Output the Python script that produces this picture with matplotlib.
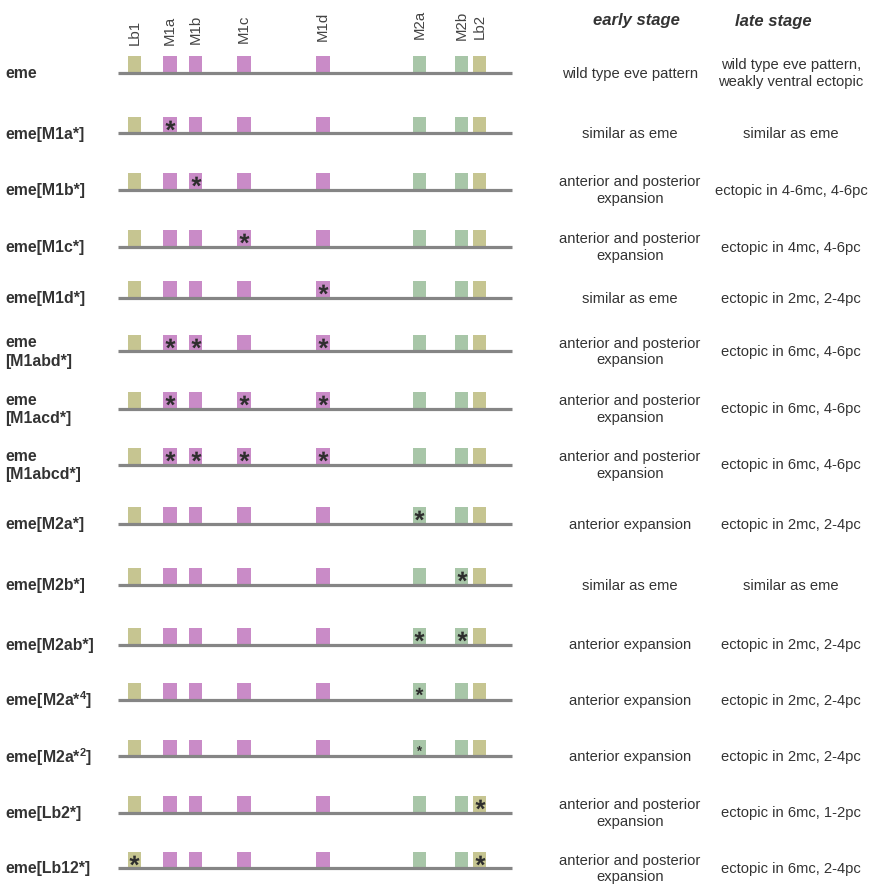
import matplotlib
matplotlib.use('Agg')
import matplotlib.pyplot as plt
from matplotlib.patches import Rectangle
from matplotlib.textpath import TextPath
from matplotlib.font_manager import FontProperties
from matplotlib.path import Path

plt.rcParams['font.family'] = ['Liberation Sans', 'DejaVu Sans']
plt.rcParams['mathtext.fontset'] = 'custom'
plt.rcParams['mathtext.rm'] = 'Liberation Sans'
plt.rcParams['mathtext.bf'] = 'Liberation Sans:bold'

# ---------------- data ----------------
sites = ['Lb1', 'M1a', 'M1b', 'M1c', 'M1d', 'M2a', 'M2b', 'Lb2']
site_positions = [134.3, 170.0, 195.7, 244.0, 323.0, 419.3, 461.7, 479.7]
site_class = ['Lb', 'M1', 'M1', 'M1', 'M1', 'M2', 'M2', 'Lb']

constructs = [
    'eme', 'eme[M1a*]', 'eme[M1b*]', 'eme[M1c*]', 'eme[M1d*]',
    'eme\n[M1abd*]', 'eme\n[M1acd*]', 'eme\n[M1abcd*]',
    'eme[M2a*]', 'eme[M2b*]', 'eme[M2ab*]',
    r'eme[M2a*$^{\mathbf{4}}$]', r'eme[M2a*$^{\mathbf{2}}$]',
    'eme[Lb2*]', 'eme[Lb12*]',
]
mutated_sites = [
    [], ['M1a'], ['M1b'], ['M1c'], ['M1d'],
    ['M1a', 'M1b', 'M1d'], ['M1a', 'M1c', 'M1d'], ['M1a', 'M1b', 'M1c', 'M1d'],
    ['M2a'], ['M2b'], ['M2a', 'M2b'],
    ['M2a'], ['M2a'],
    ['Lb2'], ['Lb1', 'Lb2'],
]
mutation_strength = ['full'] * 11 + ['4x', '2x'] + ['full'] * 2

AP = 'anterior and posterior\nexpansion'
early_stage = [
    'wild type eve pattern', 'similar as eme', AP, AP, 'similar as eme',
    AP, AP, AP,
    'anterior expansion', 'similar as eme', 'anterior expansion',
    'anterior expansion', 'anterior expansion',
    AP, AP,
]
late_stage = [
    'wild type eve pattern,\nweakly ventral ectopic', 'similar as eme',
    'ectopic in 4-6mc, 4-6pc', 'ectopic in 4mc, 4-6pc', 'ectopic in 2mc, 2-4pc',
    'ectopic in 6mc, 4-6pc', 'ectopic in 6mc, 4-6pc', 'ectopic in 6mc, 4-6pc',
    'ectopic in 2mc, 2-4pc', 'similar as eme', 'ectopic in 2mc, 2-4pc',
    'ectopic in 2mc, 2-4pc', 'ectopic in 2mc, 2-4pc',
    'ectopic in 6mc, 1-2pc', 'ectopic in 6mc, 2-4pc',
]

# ---------------- layout / style ----------------
W, H = 877, 895
row_y = [73.5, 134, 190.5, 247.5, 298.5, 352, 409.5, 465.5,
         524.5, 585.5, 645.5, 700.5, 757, 813.5, 869]
header_bottom = [45, 45, 43.5, 43, 41, 38.5, 40, 39]
line_x0, line_x1 = 118, 512
box_w, box_h = 13.5, 16.5
colors = {'Lb': '#c6c591', 'M1': '#c98bc7', 'M2': '#a8c6a8'}
star_size = {'full': 7.2, '4x': 5.6, '2x': 3.8}
txt = '#333333'

fig = plt.figure(figsize=(W / 100, H / 100), dpi=100)
ax = fig.add_axes([0, 0, 1, 1])
ax.set_xlim(0, W)
ax.set_ylim(H, 0)
ax.axis('off')

# asterisk marker built from the font glyph, centred on its own extents
fp = FontProperties(family='Liberation Sans', weight='bold')
tp = TextPath((0, 0), '*', prop=fp, size=1)
polys = tp.to_polygons()
star = Path.make_compound_path(*[Path(p, closed=True) for p in polys])
ext = star.get_extents()
star = Path(star.vertices - [(ext.x0 + ext.x1) / 2, (ext.y0 + ext.y1) / 2],
            star.codes)

# site headers
for s, x, b in zip(sites, site_positions, header_bottom):
    ax.text(x, b, s, rotation=90, ha='center', va='bottom',
            fontsize=10.8, color='#444444')

ax.text(636, 20, 'early stage', ha='center', va='center', fontsize=12,
        fontweight='bold', fontstyle='italic', color=txt)
ax.text(773, 21, 'late stage', ha='center', va='center', fontsize=12,
        fontweight='bold', fontstyle='italic', color=txt)

for i, y in enumerate(row_y):
    ax.plot([line_x0, line_x1], [y, y], color='#858585', lw=2.3,
            solid_capstyle='butt', zorder=2)
    for s, x, c in zip(sites, site_positions, site_class):
        ax.add_patch(Rectangle((x - box_w / 2, y - box_h), box_w, box_h,
                               facecolor=colors[c], edgecolor='none', zorder=1))
    mx = [site_positions[sites.index(s)] for s in mutated_sites[i]]
    if mx:
        ax.plot(mx, [y - 8.3] * len(mx), linestyle='none', marker=star,
                markersize=star_size[mutation_strength[i]],
                markeredgewidth=0, color='#2e2e2e', zorder=3)
    ax.text(5, y, constructs[i], ha='left', va='center', fontsize=11.4,
            fontweight='bold', color=txt, linespacing=1.3)
    ax.text(630, y, early_stage[i], ha='center', va='center', fontsize=10.6,
            color=txt, linespacing=1.2)
    ax.text(791, y, late_stage[i], ha='center', va='center', fontsize=10.6,
            color=txt, linespacing=1.2)

fig.savefig('out.png', dpi=100)
